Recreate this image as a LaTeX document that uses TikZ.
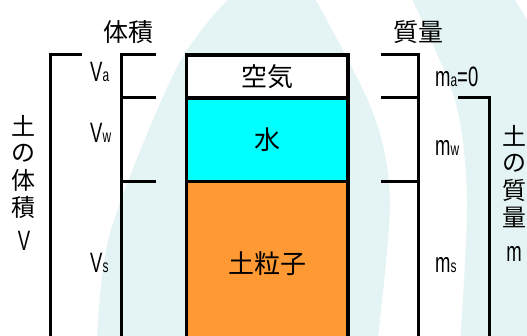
\documentclass[tikz,border=0pt]{standalone}
\usepackage{fontspec}
\setmainfont{Noto Sans CJK JP}
\newfontfamily\narrowfont[FakeStretch=0.66]{Liberation Sans}
\usetikzlibrary{positioning,calc}

\definecolor{wavebg}{HTML}{E4F4F4}
\definecolor{watercol}{HTML}{00FFFF}
\definecolor{soilcol}{HTML}{FF9933}

% big letter with a small index, as V_a or m_w
\newcommand{\phq}[2]{{\narrowfont\fontsize{28}{28}\selectfont #1\fontsize{18}{18}\selectfont #2}}

\tikzset{
    layer/.style={draw=black, line width=3.4pt, outer sep=0pt, inner sep=0pt, minimum width=161.5pt, font=\fontsize{26}{26}\selectfont},
    bracket/.style={line width=3pt},
    head/.style={inner sep=0pt, font=\fontsize{25}{25}\selectfont},
    vchar/.style={inner sep=0pt, font=\fontsize{24}{24}\selectfont},
    qlabel/.style={inner sep=0pt, anchor=base west}
}

\begin{document}
\begin{tikzpicture}[x=1pt,y=-1pt]
    \clip (0,0) rectangle (527,336);
    \fill[white] (0,0) rectangle (527,336);

    % pale waves behind the diagram
    \fill[wavebg] plot[smooth] coordinates {(232,-5) (177,67) (110,233) (97,345)}
        -- plot[smooth] coordinates {(377,345) (390,200) (372,110) (313,-5)} -- cycle;
    \fill[wavebg] plot[smooth] coordinates {(410,-5) (455,100) (467,200) (460,345)}
        -- (530,345) -- (530,25) -- (512,-5) -- cycle;

    % the three phases of the soil
    \node[layer, fill=white, minimum height=43pt] (air) at (267.25,76.5) {空気};
    \node[layer, fill=watercol, minimum height=83.5pt, below=0pt of air] (water) {水};
    \node[layer, fill=soilcol, minimum height=165pt, below=0pt of water] (soil) {土粒子};

    \node[head] (vol) at (128,32.5) {体積};
    \node[head] (mass) at (418,32.5) {質量};

    % volume side
    \draw[bracket] (82,0 |- air.north) -| (50,345);                       % whole volume V
    \draw[bracket] (156,0 |- air.north) -| (121,345);                     % V_a, V_w, V_s
    \draw[bracket] (156,0 |- water.north) -- (121,0 |- water.north);
    \draw[bracket] (156,0 |- soil.north) -- (121,0 |- soil.north);

    \node[qlabel] (Va) at (90,82) {\phq{V}{a}};
    \node[qlabel] (Vw) at (90,143) {\phq{V}{w}};
    \node[qlabel] (Vs) at (90,273) {\phq{V}{s}};

    \foreach \ch [count=\i] in {土,の,体,積}
        \node[vchar] (lv\i) at (24,{126+27.3*(\i-1)}) {\ch};
    \node[inner sep=0pt, anchor=base] (lV) at (24,251) {\narrowfont\fontsize{28}{28}\selectfont V};

    % mass side
    \draw[bracket] (381,0 |- air.north) -| (418,345);                     % m_a, m_w, m_s
    \draw[bracket] (381,0 |- water.north) -- (418,0 |- water.north);
    \draw[bracket] (381,0 |- soil.north) -- (418,0 |- soil.north);
    \draw[bracket] (458,0 |- water.north) -| (489,345);                   % whole mass m

    \node[qlabel] (ma) at (435,87) {\phq{m}{a}{\narrowfont\fontsize{28}{28}\selectfont =0}};
    \node[qlabel] (mw) at (435,156) {\phq{m}{w}};
    \node[qlabel] (ms) at (435,273) {\phq{m}{s}};

    \foreach \ch [count=\i] in {土,の,質,量}
        \node[vchar] (rv\i) at (514,{136+27*(\i-1)}) {\ch};
    \node[inner sep=0pt, anchor=base] (rm) at (514,262) {\narrowfont\fontsize{28}{28}\selectfont m};
\end{tikzpicture}
\end{document}
